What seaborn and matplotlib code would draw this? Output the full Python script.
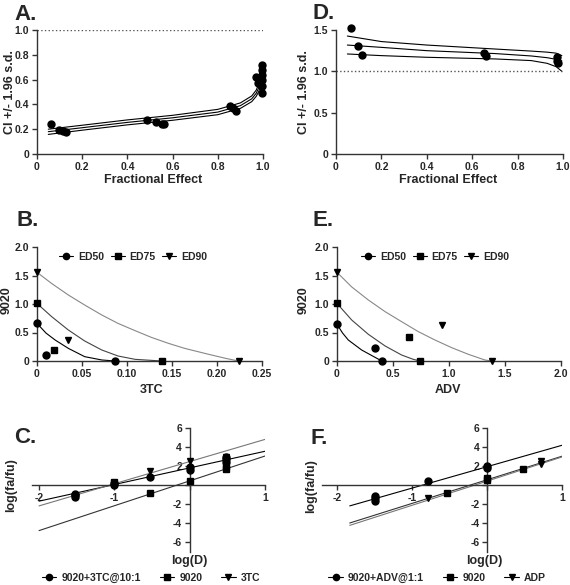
import numpy as np
import matplotlib
matplotlib.use("Agg")
import matplotlib.pyplot as plt
from matplotlib.lines import Line2D
from matplotlib.ticker import FixedLocator, FuncFormatter
import seaborn as sns

# ── Panel A: CI vs fractional effect (9020 + 3TC) ────────────────────────────
a_fa = [0.06, 0.097, 0.115, 0.127, 0.488, 0.525, 0.553, 0.562, 0.853, 0.867, 0.882,
        0.970, 0.978, 0.996, 0.996, 0.996, 0.996, 0.996, 0.996, 0.985]
a_ci = [0.244, 0.196, 0.188, 0.174, 0.271, 0.255, 0.241, 0.239, 0.389, 0.370, 0.349,
        0.625, 0.571, 0.716, 0.680, 0.640, 0.600, 0.550, 0.490, 0.590]
a_curve_fa = [0.05, 0.2, 0.4, 0.6, 0.8, 0.9, 0.95, 0.97, 0.98, 0.99, 0.996]
a_curve_mid = [0.180, 0.212, 0.255, 0.292, 0.338, 0.390, 0.445, 0.490, 0.530, 0.580, 0.615]
a_curve_up = [0.200, 0.232, 0.275, 0.312, 0.360, 0.412, 0.468, 0.515, 0.560, 0.620, 0.660]
a_curve_lo = [0.158, 0.192, 0.235, 0.272, 0.317, 0.368, 0.422, 0.465, 0.500, 0.545, 0.570]

# ── Panel D: CI vs fractional effect (9020 + ADV) ────────────────────────────
d_fa = [0.066, 0.095, 0.113, 0.652, 0.661, 0.972, 0.975, 0.976]
d_ci = [1.53, 1.306, 1.198, 1.218, 1.186, 1.17, 1.12, 1.10]
d_curve_fa = [0.05, 0.2, 0.4, 0.7, 0.86, 0.93, 0.97, 0.995]
d_curve_up = [1.427, 1.36, 1.318, 1.27, 1.245, 1.232, 1.22, 1.19]
d_curve_mid = [1.318, 1.29, 1.25, 1.215, 1.186, 1.165, 1.145, 1.125]
d_curve_lo = [1.21, 1.19, 1.17, 1.15, 1.13, 1.097, 1.056, 1.0]

# ── Panel B: isobologram 9020 vs 3TC ─────────────────────────────────────────
b_ed50_x = [0.0, 0.0096, 0.0867]
b_ed50_y = [0.66, 0.105, 0.0]
b_ed75_x = [0.0, 0.0189, 0.1385]
b_ed75_y = [1.01, 0.187, 0.0]
b_ed90_x = [0.0, 0.0345, 0.224]
b_ed90_y = [1.556, 0.368, 0.0]
b_c50_x = [0.0, 0.01, 0.02, 0.0348, 0.053, 0.072, 0.0867]
b_c50_y = [0.66, 0.49, 0.37, 0.222, 0.076, 0.018, 0.0]
b_c75_x = [0.0, 0.0163, 0.0348, 0.053, 0.072, 0.09, 0.109, 0.1385]
b_c75_y = [1.01, 0.778, 0.544, 0.351, 0.193, 0.088, 0.029, 0.0]
b_c90_x = [0.0, 0.0163, 0.0348, 0.053, 0.072, 0.09, 0.109, 0.127, 0.146, 0.164, 0.19, 0.21, 0.224]
b_c90_y = [1.556, 1.36, 1.158, 0.982, 0.807, 0.66, 0.532, 0.415, 0.31, 0.222, 0.12, 0.045, 0.0]

# ── Panel E: isobologram 9020 vs ADV ─────────────────────────────────────────
e_ed50_x = [0.0, 0.339, 0.40]
e_ed50_y = [0.643, 0.234, 0.0]
e_ed75_x = [0.0, 0.643, 0.741]
e_ed75_y = [1.01, 0.427, 0.0]
e_ed90_x = [0.0, 0.94, 1.38]
e_ed90_y = [1.556, 0.63, 0.0]
e_c50_x = [0.0, 0.05, 0.101, 0.22, 0.34, 0.40]
e_c50_y = [0.643, 0.49, 0.368, 0.193, 0.064, 0.0]
e_c75_x = [0.0, 0.131, 0.28, 0.43, 0.577, 0.68, 0.741]
e_c75_y = [1.01, 0.72, 0.468, 0.263, 0.105, 0.03, 0.0]
e_c90_x = [0.0, 0.131, 0.28, 0.43, 0.577, 0.726, 0.875, 1.024, 1.173, 1.32, 1.38]
e_c90_y = [1.556, 1.30, 1.07, 0.865, 0.69, 0.515, 0.368, 0.234, 0.117, 0.018, 0.0]

# ── Panel C: median-effect plot 9020 + 3TC ───────────────────────────────────
c_combo_x = [-1.52, -1.52, -1.52, -1.0, -1.0, -0.527, 0.0, 0.0, 0.478, 0.478, 0.478]
c_combo_y = [-0.9, -1.05, -1.25, 0.05, 0.2, 0.8, 1.6, 1.85, 2.4, 2.7, 2.95]
c_9020_x = [-1.0, -0.527, 0.0, 0.478, 0.478]
c_9020_y = [0.3, -0.87, 0.45, 1.65, 2.0]
c_3tc_x = [-1.52, -1.0, -0.527, 0.0, 0.478]
c_3tc_y = [-1.3, 0.2, 1.45, 2.5, 3.0]
c_fit_x = [-2.0, 1.0]
c_fit_combo = [-1.7, 3.55]
c_fit_9020 = [-4.8, 3.05]
c_fit_3tc = [-2.2, 4.8]

# ── Panel F: median-effect plot 9020 + ADV ───────────────────────────────────
f_combo_x = [-1.5, -1.5, -1.5, -0.787, 0.0, 0.0]
f_combo_y = [-1.15, -1.4, -1.65, 0.45, 1.75, 2.05]
f_9020_x = [-0.53, 0.0, 0.0, 0.48]
f_9020_y = [-0.87, 0.5, 0.75, 1.65]
f_adp_x = [-0.787, 0.0, 0.716, 0.716]
f_adp_y = [-1.4, 0.5, 2.25, 2.55]
f_fit_x = [-1.83, 1.0]
f_fit_combo = [-2.2, 4.18]
f_fit_9020 = [-4.0, 3.03]
f_fit_adp = [-4.25, 2.95]

sns.set_theme(style="ticks")
plt.rcParams["font.family"] = ["Liberation Sans", "DejaVu Sans"]
plt.rcParams["font.weight"] = "bold"
plt.rcParams["axes.labelweight"] = "bold"

W, H = 570, 585
fig = plt.figure(figsize=(W / 100, H / 100), dpi=100)


def _ax(left, top, right, bottom):
    return fig.add_axes([left / W, 1 - bottom / H, (right - left) / W, (bottom - top) / H])


def _fmt(dec):
    return FuncFormatter(lambda v, p: "0" if abs(v) < 1e-9 else f"{v:.{dec}f}")


def _style(ax):
    for s in ["top", "right"]:
        ax.spines[s].set_visible(False)
    for s in ["left", "bottom"]:
        ax.spines[s].set_color("#333333")
        ax.spines[s].set_linewidth(1.0)
    ax.tick_params(direction="out", length=3.5, width=1.0, labelsize=7.5, pad=2, color="#333333")
    for lab in ax.get_xticklabels() + ax.get_yticklabels():
        lab.set_fontweight("bold")


def _line(ax, x, y, color="black", lw=0.8):
    sns.lineplot(x=x, y=y, ax=ax, color=color, linewidth=lw, sort=False, estimator=None, legend=False)


def _pts(ax, x, y, marker, size=5):
    ax.plot(x, y, linestyle="none", marker=marker, color="black", markersize=size, clip_on=False, zorder=4)


def _label(ax, xl, yl, xpos, ypos, fs=9):
    ax.set_xlabel(xl, fontsize=fs, fontweight="bold")
    ax.set_ylabel(yl, fontsize=fs, fontweight="bold")
    ax.xaxis.set_label_coords(*xpos)
    ax.yaxis.set_label_coords(*ypos)


def _handles():
    return [Line2D([], [], color="black", marker=m, markersize=4.5, linewidth=0.8) for m in ["o", "s", "v"]]


def _ci_panel(ax, fa, ci, cx, cu, cm, cl, ymax, yticks):
    _line(ax, cx, cu)
    _line(ax, cx, cm)
    _line(ax, cx, cl)
    ax.axhline(1.0, color="#555555", linestyle=":", linewidth=1.0)
    _pts(ax, fa, ci, "o")
    ax.set_xlim(0, 1)
    ax.set_ylim(0, ymax)
    ax.xaxis.set_major_locator(FixedLocator([0, 0.2, 0.4, 0.6, 0.8, 1.0]))
    ax.yaxis.set_major_locator(FixedLocator(yticks))
    ax.xaxis.set_major_formatter(_fmt(1))
    ax.yaxis.set_major_formatter(_fmt(1))
    _style(ax)


def _iso_panel(ax, pts, curves, xmax, xticks, xdec, legx):
    for (cx, cy), color in zip(curves, ["black", "#444444", "#888888"]):
        _line(ax, cx, cy, color=color)
    for (px, py), m in zip(pts, ["o", "s", "v"]):
        _pts(ax, px, py, m)
    ax.set_xlim(0, xmax)
    ax.set_ylim(0, 2.0)
    ax.xaxis.set_major_locator(FixedLocator(xticks))
    ax.yaxis.set_major_locator(FixedLocator([0, 0.5, 1.0, 1.5, 2.0]))
    ax.xaxis.set_major_formatter(_fmt(xdec))
    ax.yaxis.set_major_formatter(_fmt(1))
    ax.legend(_handles(), ["ED50", "ED75", "ED90"], loc="center", bbox_to_anchor=(legx, 0.912), ncol=3,
              frameon=False, handlelength=1.35, handletextpad=0.45, columnspacing=0.65,
              borderpad=0, prop={"size": 7.5, "weight": "bold"})
    _style(ax)


def _me_panel(ax, sets, fits, fx, xlim, names, legx):
    for fy, color in zip(fits, ["black", "#333333", "#777777"]):
        _line(ax, fx, fy, color=color)
    for (px, py), m in zip(sets, ["o", "s", "v"]):
        _pts(ax, px, py, m)
    ax.set_xlim(*xlim)
    ax.set_ylim(-7, 6)
    ax.spines["left"].set_position(("data", 0))
    ax.spines["bottom"].set_position(("data", 0))
    ax.xaxis.set_major_locator(FixedLocator([-2, -1, 0, 1]))
    ax.yaxis.set_major_locator(FixedLocator([-6, -4, -2, 0, 2, 4, 6]))
    hide0 = FuncFormatter(lambda v, p: "" if abs(v) < 1e-9 else f"{v:g}")
    ax.xaxis.set_major_formatter(hide0)
    ax.yaxis.set_major_formatter(hide0)
    ax.legend(_handles(), names, loc="center", bbox_to_anchor=(legx, -0.215), ncol=3,
              frameon=False, handlelength=1.4, handletextpad=0.5, columnspacing=1.8,
              borderpad=0, prop={"size": 7.5, "weight": "bold"})
    _style(ax)


# A
axA = _ax(37, 30, 263, 154)
_ci_panel(axA, a_fa, a_ci, a_curve_fa, a_curve_up, a_curve_mid, a_curve_lo, 1.0,
          [0, 0.2, 0.4, 0.6, 0.8, 1.0])
_label(axA, "Fractional Effect", "CI +/- 1.96 s.d.", (0.513, -0.16), (-0.095, 0.5))

# D
axD = _ax(336, 30, 563, 154)
_ci_panel(axD, d_fa, d_ci, d_curve_fa, d_curve_up, d_curve_mid, d_curve_lo, 1.5,
          [0, 0.5, 1.0, 1.5])
_label(axD, "Fractional Effect", "CI +/- 1.96 s.d.", (0.493, -0.16), (-0.115, 0.5))

# B
axB = _ax(37, 247, 262, 361)
_iso_panel(axB, [(b_ed50_x, b_ed50_y), (b_ed75_x, b_ed75_y), (b_ed90_x, b_ed90_y)],
           [(b_c50_x, b_c50_y), (b_c75_x, b_c75_y), (b_c90_x, b_c90_y)],
           0.25, [0, 0.05, 0.10, 0.15, 0.20, 0.25], 2, 0.427)
_label(axB, "3TC", "9020", (0.511, -0.2), (-0.107, 0.53))

# E
axE = _ax(337, 247, 561, 361)
_iso_panel(axE, [(e_ed50_x, e_ed50_y), (e_ed75_x, e_ed75_y), (e_ed90_x, e_ed90_y)],
           [(e_c50_x, e_c50_y), (e_c75_x, e_c75_y), (e_c90_x, e_c90_y)],
           2.0, [0, 0.5, 1.0, 1.5, 2.0], 1, 0.4375)
_label(axE, "ADV", "9020", (0.496, -0.2), (-0.12, 0.53))

# C
axC = _ax(31.5, 428, 265, 551.5)
_me_panel(axC, [(c_combo_x, c_combo_y), (c_9020_x, c_9020_y), (c_3tc_x, c_3tc_y)],
          [c_fit_combo, c_fit_9020, c_fit_3tc], c_fit_x, (-2.1, 1.0),
          ["9020+3TC@10:1", "9020", "3TC"], 0.512)
_label(axC, "log(D)", "log(fa/fu)", (0.674, -0.03), (-0.062, 0.538))

# F
axF = _ax(322, 428, 562, 551.5)
_me_panel(axF, [(f_combo_x, f_combo_y), (f_9020_x, f_9020_y), (f_adp_x, f_adp_y)],
          [f_fit_combo, f_fit_9020, f_fit_adp], f_fit_x, (-2.2, 1.0),
          ["9020+ADV@1:1", "9020", "ADP"], 0.48)
_label(axF, "log(D)", "log(fa/fu)", (0.675, -0.03), (-0.02, 0.53))

# panel letters
for letter, x, y in [("A.", 14, 20), ("D.", 312, 19), ("B.", 16, 226), ("E.", 312, 226),
                     ("C.", 14, 443), ("F.", 311, 444)]:
    fig.text(x / W, 1 - y / H, letter, fontsize=16, fontweight="bold", ha="left", va="baseline")

fig.savefig("out.png", dpi=100)
